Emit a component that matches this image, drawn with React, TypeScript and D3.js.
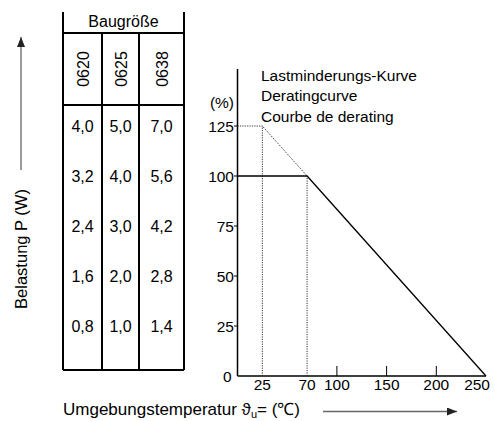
import React from "react";
import * as d3 from "d3";

const sizes = ["0620", "0625", "0638"];
const percentRows = [125, 100, 75, 50, 25];
const loads0620 = [4.0, 3.2, 2.4, 1.6, 0.8];
const loads0625 = [5.0, 4.0, 3.0, 2.0, 1.0];
const loads0638 = [7.0, 5.6, 4.2, 2.8, 1.4];
const yTicks = [0, 25, 50, 75, 100, 125];
const xTicks = [25, 70, 100, 150, 200, 250];
const deratingSolid: [number, number][] = [[0, 100], [70, 100], [250, 0]];
const deratingDotted: [number, number][] = [[0, 125], [25, 125], [70, 100]];
const titleLines = ["Lastminderungs-Kurve", "Deratingcurve", "Courbe de derating"];

const FONT = "'Liberation Sans', Arial, sans-serif";

export default function App() {
  const W = 495, H = 421;
  const x = d3.scaleLinear().domain([0, 250]).range([237.5, 486]);
  const y = d3.scaleLinear().domain([0, 125]).range([376, 126]);
  const line = d3.line<[number, number]>().x(d => x(d[0])).y(d => y(d[1]));
  const fmt = (v: number) => v.toFixed(1).replace(".", ",");
  const cols = [loads0620, loads0625, loads0638];
  const colX = [63, 102, 139, 184];
  const colC = [82.5, 120.5, 161.5];

  return (
    <svg width={W} height={H} style={{ position: "absolute", left: 0, top: 0, background: "#fff" }} fontFamily={FONT}>
      <defs>
        <marker id="ah" markerWidth="10" markerHeight="8" refX="10" refY="4" orient="auto" markerUnits="userSpaceOnUse">
          <path d="M0,0 L10,4 L0,8 Z" fill="#222" />
        </marker>
      </defs>
      {/* left arrow + label */}
      <line x1={21} y1={170} x2={21} y2={37} stroke="#666" strokeWidth={1.3} markerEnd="url(#ah)" />
      <text transform="translate(27,249) rotate(-90)" textAnchor="middle" fontSize={16.5} fill="#000">Belastung P (W)</text>

      {/* table */}
      <g stroke="#000" strokeWidth={2} fill="none">
        <line x1={colX[0]} y1={12} x2={colX[0]} y2={370} />
        <line x1={colX[3]} y1={12} x2={colX[3]} y2={370} />
        <line x1={colX[1]} y1={33} x2={colX[1]} y2={370} />
        <line x1={colX[2]} y1={33} x2={colX[2]} y2={370} />
        <line x1={colX[0]} y1={33} x2={colX[3]} y2={33} />
        <line x1={colX[0]} y1={105} x2={colX[3]} y2={105} />
        <line x1={colX[0]} y1={370} x2={colX[3]} y2={370} />
      </g>
      <text x={123.5} y={27} textAnchor="middle" fontSize={16} fill="#000">Baugröße</text>
      {sizes.map((s, i) => (
        <text key={s} transform={`translate(${colC[i] + 6},69) rotate(-90)`} textAnchor="middle" fontSize={16} fill="#000">{s}</text>
      ))}
      {cols.map((c, i) =>
        c.map((v, j) => (
          <text key={i + "-" + j} x={colC[i]} y={y(percentRows[j]) + 5.5} textAnchor="middle" fontSize={16} fill="#000">{fmt(v)}</text>
        ))
      )}

      {/* chart */}
      <g stroke="#000" fill="none">
        <line x1={x(0)} y1={69} x2={x(0)} y2={y(0)} strokeWidth={1.5} />
        <line x1={x(0)} y1={y(0)} x2={x(250)} y2={y(0)} strokeWidth={1.5} />
        {yTicks.filter(t => t > 0).map(t => (
          <line key={t} x1={x(0) - 3.5} x2={x(0)} y1={y(t)} y2={y(t)} strokeWidth={1} />
        ))}
        {xTicks.filter(t => t >= 100 && t < 250).map(t => (
          <line key={t} x1={x(t)} x2={x(t)} y1={y(0)} y2={y(0) - 10} strokeWidth={1} />
        ))}
        <path d={line(deratingDotted) || ""} stroke="#333" strokeWidth={1} strokeDasharray="1.2,1.2" />
        {[25, 70].map(t => (
          <line key={t} x1={x(t)} x2={x(t)} y1={y(0)} y2={y(deratingDotted.find(d => d[0] === t)![1])} stroke="#333" strokeWidth={1} strokeDasharray="1.2,1.2" />
        ))}
        <path d={line(deratingSolid) || ""} strokeWidth={1.3} />
      </g>
      {yTicks.map(t => (
        <text key={t} x={t === 0 ? 231.5 : 234} y={y(t) + 5.5} textAnchor="end" fontSize={15.5} fill="#000">{t}</text>
      ))}
      <text x={234} y={107.5} textAnchor="end" fontSize={15.5} fill="#000">(%)</text>
      {xTicks.map(t => (
        <text key={t} x={t === 250 ? x(t) + 4 : x(t)} y={389.5} textAnchor={t === 250 ? "end" : "middle"} fontSize={15.5} fill="#000">{t}</text>
      ))}
      {titleLines.map((s, i) => (
        <text key={s} x={261} y={81 + i * 20.3} fontSize={15.5} fill="#000">{s}</text>
      ))}

      {/* bottom label + arrow */}
      <text x={63} y={415} fontSize={17} fill="#000">
        Umgebungstemperatur ϑ<tspan fontSize={11} dy={3}>u</tspan><tspan dy={-3}>= (℃)</tspan>
      </text>
      <line x1={323} y1={411.5} x2={457} y2={411.5} stroke="#666" strokeWidth={1.3} markerEnd="url(#ah)" />
    </svg>
  );
}
